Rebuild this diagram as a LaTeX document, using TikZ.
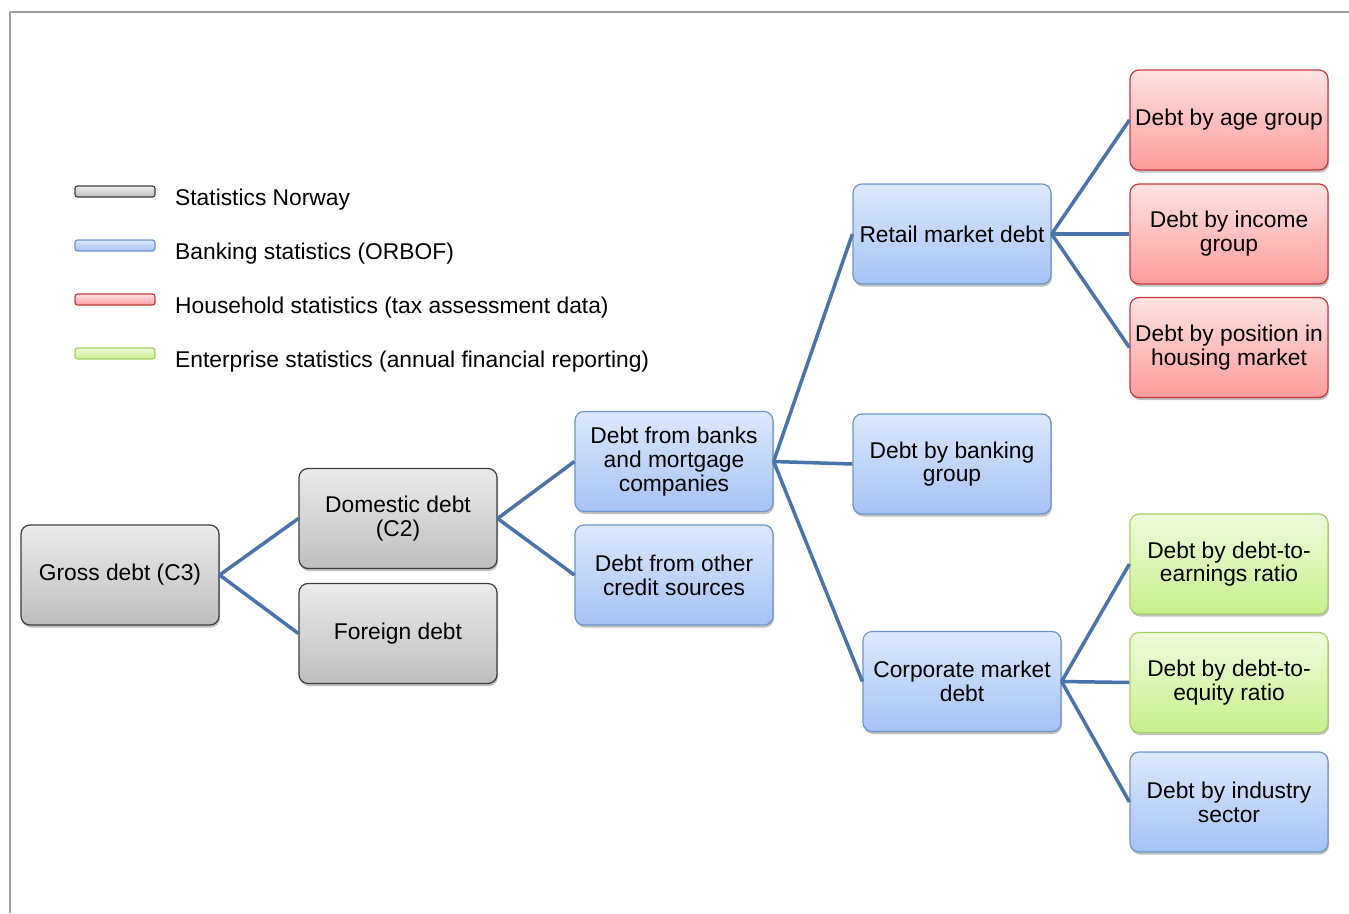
\documentclass[tikz,border=0pt]{standalone}
\usepackage{fontspec}
\setmainfont{Liberation Sans}
\usetikzlibrary{shadows}
\definecolor{gtop}{HTML}{EBEBEB}\definecolor{gbot}{HTML}{BEBEBE}\definecolor{gbrd}{HTML}{3E3E3E}
\definecolor{btop}{HTML}{DDE8FC}\definecolor{bbot}{HTML}{A5C3F6}\definecolor{bbrd}{HTML}{6F94C9}
\definecolor{rtop}{HTML}{FDE3E3}\definecolor{rbot}{HTML}{FD9C9C}\definecolor{rbrd}{HTML}{C43A38}
\definecolor{etop}{HTML}{F0FBDC}\definecolor{ebot}{HTML}{C8EF8C}\definecolor{ebrd}{HTML}{A6D064}
\definecolor{link}{HTML}{4A73A9}
\definecolor{frame}{HTML}{A0A0A0}
\tikzset{
  box/.style={rounded corners=9pt, minimum width=198pt, minimum height=100pt, align=center,
    font=\fontsize{22.8}{23.8}\selectfont, line width=1.2pt, inner sep=2pt,
    drop shadow={shadow xshift=1pt, shadow yshift=-2.5pt, opacity=0.35, fill=black!70}},
  gbox/.style={box, draw=gbrd, top color=gtop, bottom color=gbot},
  bbox/.style={box, draw=bbrd, top color=btop, bottom color=bbot},
  rbox/.style={box, draw=rbrd, top color=rtop, bottom color=rbot},
  ebox/.style={box, draw=ebrd, top color=etop, bottom color=ebot},
  swatch/.style={rounded corners=2.5pt, minimum width=80pt, minimum height=11pt, inner sep=0pt, line width=1.2pt},
  legtext/.style={anchor=base west, inner sep=0pt, font=\fontsize{22.8}{24}\selectfont},
  conn/.style={draw=link, line width=3.5pt},
}
\begin{document}
\begin{tikzpicture}[x=1pt,y=-1pt]
\useasboundingbox (0,0) rectangle (1349,913);
\draw[frame, line width=2pt] (10,913) -- (10,12) -- (1349,12);
% legend
\node[swatch, draw=gbrd, top color=gtop, bottom color=gbot] (s1) at (115,191.5) {};
\node[swatch, draw=bbrd, top color=btop, bottom color=bbot] (s2) at (115,245.5) {};
\node[swatch, draw=rbrd, top color=rtop, bottom color=rbot] (s3) at (115,299.5) {};
\node[swatch, draw=ebrd, top color=etop, bottom color=ebot] (s4) at (115,353.5) {};
\node[legtext] (l1) at (175,205) {Statistics Norway};
\node[legtext] (l2) at (175,259) {Banking statistics (ORBOF)};
\node[legtext] (l3) at (175,313) {Household statistics (tax assessment data)};
\node[legtext] (l4) at (175,367) {Enterprise statistics (annual financial reporting)};
% nodes
\node[gbox] (gross) at (120,575) {Gross debt (C3)};
\node[gbox] (dom) at (398,518.5) {Domestic debt\\(C2)};
\node[gbox] (for) at (398,633.5) {Foreign debt};
\node[bbox] (banks) at (674,461.5) {Debt from banks\\and mortgage\\companies};
\node[bbox] (other) at (674,575) {Debt from other\\credit sources};
\node[bbox] (retail) at (952,234) {Retail market debt};
\node[bbox] (bgroup) at (952,464) {Debt by banking\\group};
\node[bbox] (corp) at (962,681.5) {Corporate market\\debt};
\node[rbox] (age) at (1229,120) {Debt by age group};
\node[rbox] (income) at (1229,234) {Debt by income\\group};
\node[rbox] (housing) at (1229,347.5) {Debt by position in\\housing market};
\node[ebox] (earn) at (1229,564) {Debt by debt-to-\\earnings ratio};
\node[ebox] (equity) at (1229,682.5) {Debt by debt-to-\\equity ratio};
\node[bbox] (industry) at (1229,802) {Debt by industry\\sector};
% connectors
\draw[conn] (gross.east) -- (dom.west);
\draw[conn] (gross.east) -- (for.west);
\draw[conn] (dom.east) -- (banks.west);
\draw[conn] (dom.east) -- (other.west);
\draw[conn] (banks.east) -- (retail.west);
\draw[conn] (banks.east) -- (bgroup.west);
\draw[conn] (banks.east) -- (corp.west);
\draw[conn] (retail.east) -- (age.west);
\draw[conn] (retail.east) -- (income.west);
\draw[conn] (retail.east) -- (housing.west);
\draw[conn] (corp.east) -- (earn.west);
\draw[conn] (corp.east) -- (equity.west);
\draw[conn] (corp.east) -- (industry.west);
\end{tikzpicture}
\end{document}
